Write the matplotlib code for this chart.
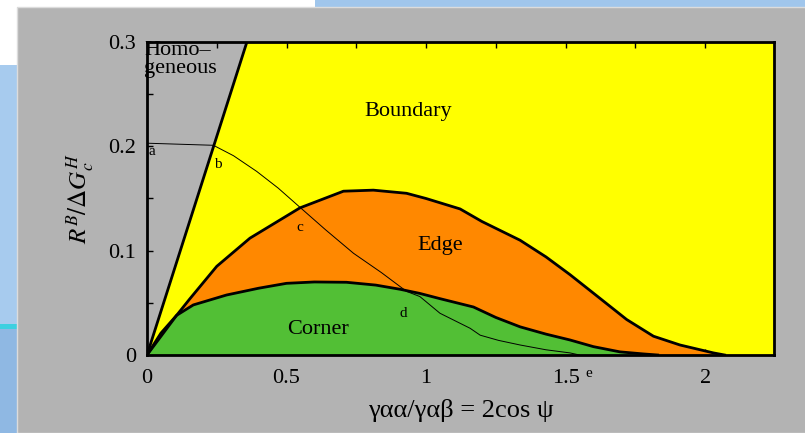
import numpy as np
import matplotlib
matplotlib.use("Agg")
import matplotlib.pyplot as plt
from matplotlib.patches import Rectangle

# homogeneous / boundary limit (straight line from origin)
hom_x = [0.0, 0.358]
hom_y = [0.0, 0.3]

# edge nucleation upper limit
edge_x = [0.0, 0.106, 0.154, 0.25, 0.369, 0.548, 0.704, 0.811, 0.93, 1.0, 1.122,
          1.2, 1.337, 1.43, 1.516, 1.62, 1.719, 1.815, 1.91, 2.03, 2.07]
edge_y = [0.0, 0.038, 0.054, 0.085, 0.112, 0.141, 0.157, 0.158, 0.155, 0.150, 0.140,
          0.128, 0.110, 0.094, 0.077, 0.055, 0.034, 0.018, 0.0096, 0.002, 0.0]

# corner nucleation upper limit
corner_x = [0.0, 0.05, 0.106, 0.166, 0.285, 0.40, 0.50, 0.60, 0.715, 0.82, 0.907, 0.978,
            1.05, 1.17, 1.25, 1.337, 1.43, 1.516, 1.60, 1.695, 1.78, 1.83]
corner_y = [0.0, 0.021, 0.038, 0.048, 0.0575, 0.064, 0.0687, 0.070, 0.0697, 0.067, 0.063, 0.059,
            0.054, 0.046, 0.036, 0.027, 0.020, 0.0144, 0.008, 0.003, 0.001, 0.0]

# thin curve through points a..e
thin_x = [0.0, 0.238, 0.31, 0.393, 0.47, 0.548, 0.64, 0.74, 0.84, 0.93, 0.978, 1.05,
          1.158, 1.194, 1.26, 1.337, 1.43, 1.516, 1.55]
thin_y = [0.203, 0.201, 0.191, 0.176, 0.160, 0.1416, 0.120, 0.0975, 0.079, 0.061, 0.056, 0.040,
          0.0256, 0.019, 0.014, 0.0096, 0.005, 0.002, 0.0]

region_labels = [("Boundary", 0.935, 0.233), ("Edge", 1.05, 0.105), ("Corner", 0.613, 0.024)]
point_labels = [("a", 0.005, 0.195), ("b", 0.24, 0.183), ("c", 0.535, 0.122),
                ("d", 0.905, 0.040), ("e", 1.57, -0.0175)]

plt.rcParams['font.family'] = ['Liberation Serif', 'DejaVu Serif']
plt.rcParams['mathtext.fontset'] = 'stix'

fig = plt.figure(figsize=(8.05, 4.33), dpi=100)
fig.patch.set_facecolor("#b3b3b3")

# slide background bits around the grey panel
fig.patches.append(Rectangle((0, 0), 17 / 805, 1, transform=fig.transFigure,
                             facecolor="#8fb8e3", edgecolor="none", zorder=0))
fig.patches.append(Rectangle((0, 0.25), 17 / 805, 0.60, transform=fig.transFigure,
                             facecolor="#a7cbee", edgecolor="none", zorder=0))
fig.patches.append(Rectangle((0, 0.85), 17 / 805, 0.15, transform=fig.transFigure,
                             facecolor="white", edgecolor="none", zorder=0))
fig.patches.append(Rectangle((0, 426 / 433), 1, 7 / 433, transform=fig.transFigure,
                             facecolor="#a0c6ec", edgecolor="none", zorder=0))
fig.patches.append(Rectangle((0, 426 / 433), 315 / 805, 7 / 433, transform=fig.transFigure,
                             facecolor="white", edgecolor="none", zorder=0))
fig.patches.append(Rectangle((0, 0.24), 17 / 805, 0.012, transform=fig.transFigure,
                             facecolor="#3dd0e0", edgecolor="none", zorder=0))
fig.patches.append(Rectangle((17 / 805, 0), 1, 426 / 433, transform=fig.transFigure,
                             facecolor="none", edgecolor="#dcdcdc", lw=1, zorder=0))

ax = fig.add_axes([147 / 805, 78 / 433, 627 / 805, 313 / 433])
ax.set_facecolor("yellow")
ax.set_xlim(0, 2.247)
ax.set_ylim(0, 0.3)

ax.fill([hom_x[0], hom_x[1], 0], [hom_y[0], hom_y[1], 0.3], color="#b3b3b3", zorder=1)
ax.fill_between(edge_x, 0, edge_y, color="#ff8800", zorder=2)
ax.fill_between(corner_x, 0, corner_y, color="#52bf35", zorder=3)

ax.plot(hom_x, hom_y, color="black", lw=2, zorder=5)
ax.plot(edge_x, edge_y, color="black", lw=2, zorder=5)
ax.plot(corner_x, corner_y, color="black", lw=2, zorder=5)
ax.plot(thin_x, thin_y, color="black", lw=0.7, zorder=6)

ax.text(-0.01, 0.301, "Homo\u2013\ngeneous", fontsize=16, va="top", ha="left",
        linespacing=0.9, zorder=7)
for txt, x, y in region_labels:
    ax.text(x, y, txt, fontsize=16, ha="center", va="center", zorder=7)
for txt, x, y in point_labels:
    ax.text(x, y, txt, fontsize=11, ha="left", va="center", zorder=7, clip_on=False)

ax.set_xticks([0, 0.5, 1, 1.5, 2])
ax.set_xticklabels(["0", "0.5", "1", "1.5", "2"])
ax.set_xticks([0.25, 0.75, 1.25, 1.75], minor=True)
ax.set_yticks([0, 0.1, 0.2, 0.3])
ax.set_yticklabels(["0", "0.1", "0.2", "0.3"])
ax.set_yticks([0.05, 0.15, 0.25], minor=True)
ax.tick_params(which="both", direction="in", top=True, right=False, labelsize=16,
               width=1, length=4)
ax.tick_params(axis="x", pad=10)
ax.tick_params(axis="y", pad=8)
for s in ax.spines.values():
    s.set_linewidth(2)
    s.set_zorder(8)

ax.set_xlabel("\u03b3\u03b1\u03b1/\u03b3\u03b1\u03b2 = 2cos \u03c8", fontsize=19, labelpad=8)
ax.set_ylabel(r"$R^B/\Delta G_c^H$", fontsize=18, labelpad=8)

fig.savefig("out.png", dpi=100, facecolor=fig.get_facecolor())
